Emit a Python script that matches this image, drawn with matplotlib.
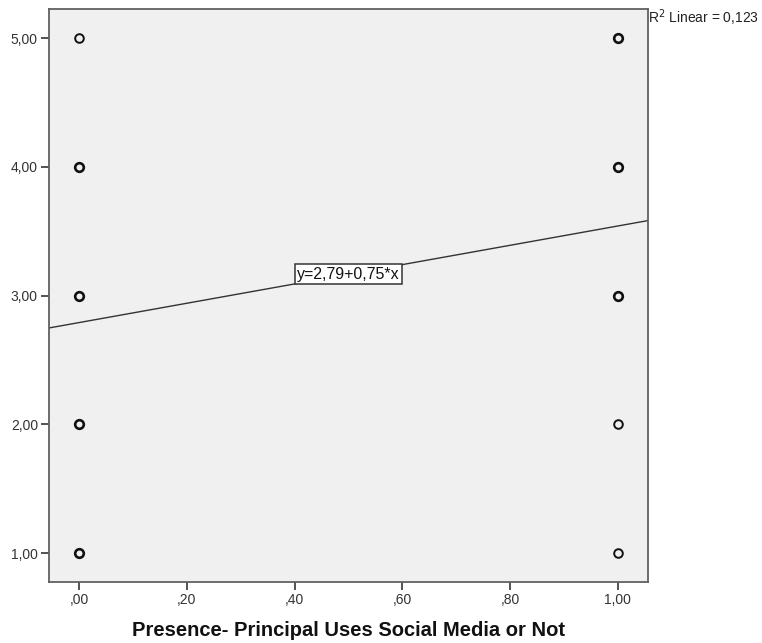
import matplotlib
matplotlib.use("Agg")
import matplotlib.pyplot as plt
from matplotlib.ticker import FuncFormatter

plt.rcParams["font.family"] = ["Liberation Sans", "DejaVu Sans"]

# observed points (unique positions) and how many cases sit on each
x_vals = [0, 0, 0, 0, 0, 1, 1, 1, 1, 1]
y_vals = [1, 2, 3, 4, 5, 1, 2, 3, 4, 5]
counts = [2, 6, 6, 4, 1, 1, 1, 5, 5, 3]

intercept = 2.79
slope = 0.75
r2 = 0.123

x_ticks = [0.0, 0.2, 0.4, 0.6, 0.8, 1.0]
y_ticks = [1.0, 2.0, 3.0, 4.0, 5.0]
xlim = (-0.056, 1.056)
ylim = (0.775, 5.225)


def comma_fmt(v, pos):
    s = f"{v:.2f}".replace(".", ",")
    if s.startswith("0,"):
        s = s[1:]
    return s


fig = plt.figure(figsize=(7.62, 6.43), dpi=100)
ax = fig.add_axes([0.0643, 0.0949, 0.786, 0.891])
ax.set_facecolor("#f0f0f0")

for x, y, n in zip(x_vals, y_vals, counts):
    lw = 1.4 if n == 1 else 1.9
    ax.plot(x, y, "o", ms=6.2, mfc="none", mec="#111111", mew=lw)

ax.plot(list(xlim), [intercept + slope * xlim[0], intercept + slope * xlim[1]],
        color="#333333", lw=1.0)

mid = 0.5
ax.text(mid, intercept + slope * mid, f"y={intercept:.2f}+{slope:.2f}*x".replace(".", ","),
        ha="center", va="center", fontsize=11.5, color="#111111",
        bbox=dict(boxstyle="square,pad=0.15", fc="white", ec="#333333", lw=1.1))

ax.set_xlim(*xlim)
ax.set_ylim(*ylim)
ax.set_xticks(x_ticks)
ax.set_yticks(y_ticks)
ax.xaxis.set_major_formatter(FuncFormatter(comma_fmt))
ax.yaxis.set_major_formatter(FuncFormatter(comma_fmt))
ax.tick_params(direction="out", length=6, width=1.3, color="#444444",
               labelsize=10, labelcolor="#333333", pad=2)
for sp in ax.spines.values():
    sp.set_color("#606060")
    sp.set_linewidth(1.3)

ax.set_xlabel("Presence- Principal Uses Social Media or Not", fontsize=14.5,
              fontweight="bold", color="#111111", labelpad=10)

fig.text(0.851, 0.988, "R$^2$ Linear = " + f"{r2:.3f}".replace(".", ","),
         ha="left", va="top", fontsize=10, color="#222222")

fig.savefig("out.png", dpi=100)
